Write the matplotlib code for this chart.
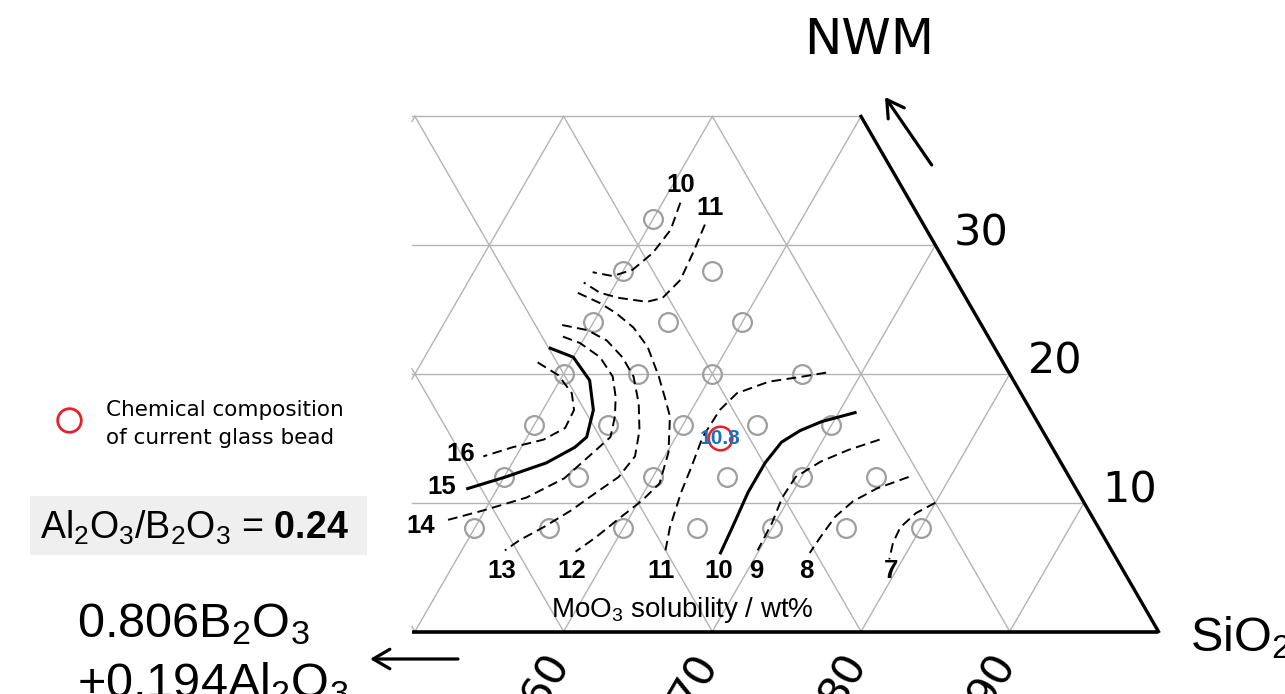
import numpy as np
import matplotlib.pyplot as plt
from matplotlib.patches import Rectangle

plt.rcParams['mathtext.fontset'] = 'custom'
plt.rcParams['mathtext.rm'] = 'Liberation Sans'
plt.rcParams['mathtext.bf'] = 'Liberation Sans:bold'
plt.rcParams['mathtext.it'] = 'Liberation Sans:italic'

#measured glass compositions (wt%)
glass_sio2 = [50,
              50, 56,
              50, 55, 60,
              50, 55, 60, 66,
              50, 55, 60, 65, 70,
              50, 55, 60, 65, 70, 75,
              50, 55, 60, 65, 70, 75, 80]
glass_nwm = [32,
             28, 28,
             24, 24, 24,
             20, 20, 20, 20,
             16, 16, 16, 16, 16,
             12, 12, 12, 12, 12, 12,
             8, 8, 8, 8, 8, 8, 8]

#current glass bead
bead_sio2 = 63
bead_nwm = 15
bead_value = 10.8

#MoO3 solubility contours as (SiO2, NWM) pairs
c10_top = [(51.2, 33.3), (51.6, 31.2), (51.3, 29.4), (50.6, 28.1), (49.5, 27.6), (48.0, 27.9)]
c11_top = [(53.7, 31.6), (54.0, 29.4), (54.2, 27.3), (53.7, 25.9), (52.8, 25.6), (50.8, 25.9),
           (49.3, 26.3), (47.8, 27.1)]
c12 = [(47.8, 26.3), (49.7, 25.5), (51.2, 24.7), (52.9, 23.6), (54.6, 22.1), (56.5, 19.8),
       (57.7, 18.2), (58.8, 16.7), (60.1, 13.9), (60.7, 11.5), (60.2, 10.2), (59.3, 8.7),
       (58.5, 7.3), (57.7, 6.2)]
c13 = [(48.0, 23.8), (49.9, 23.4), (51.6, 22.6), (53.3, 21.3), (54.8, 19.8), (56.2, 17.7),
       (57.3, 15.6), (58.0, 13.6), (57.7, 12.0), (56.8, 10.8), (55.8, 9.4), (54.6, 8.1),
       (53.5, 7.1), (52.9, 6.3)]
c14 = [(48.5, 22.9), (49.9, 22.4), (51.8, 21.3), (53.4, 19.8), (54.4, 18.2), (55.1, 16.7),
       (55.6, 15.1), (54.9, 13.6), (54.1, 11.9), (52.3, 10.4), (49.9, 9.4), (47.7, 8.6)]
c15 = [(48.1, 22.0), (50.0, 21.3), (52.0, 19.5), (53.4, 17.2), (54.0, 15.1), (53.6, 14.3),
       (52.3, 13.1), (50.1, 12.0), (48.0, 11.1)]
c16 = [(47.8, 20.9), (49.7, 19.9), (51.3, 18.5), (52.1, 17.2), (52.2, 15.8), (51.2, 14.9),
       (49.4, 14.3), (47.8, 13.6)]
c11_low = [(67.6, 20.1), (66.2, 19.8), (64.1, 19.4), (62.4, 18.5), (61.9, 17.2), (61.8, 15.1),
           (62.2, 12.8), (62.5, 10.8), (63.1, 8.1), (63.7, 6.3)]
c10_low = [(71.1, 17.0), (69.2, 16.3), (68.1, 15.6), (67.3, 14.7), (67.0, 13.1), (67.0, 10.8),
           (67.3, 8.1), (67.5, 6.1)]
c9 = [(73.8, 14.9), (72.1, 14.1), (70.7, 13.2), (69.6, 12.0), (69.5, 10.4), (69.8, 8.4), (69.9, 6.3)]
c8 = [(77.2, 12.0), (75.5, 11.1), (74.4, 10.1), (73.8, 8.9), (73.6, 7.3), (73.5, 6.1)]
c7 = [(80.0, 10.0), (79.1, 9.2), (78.6, 8.1), (78.7, 6.9), (79.1, 5.6)]

#contour labels
label_text = ['10', '11', '12', '13', '14', '15', '16', '11', '10', '9', '8', '7']
label_sio2 = [50.5, 53.4, 58.2, 53.5, 46.3, 46.2, 46.2, 64.2, 68.1, 70.6, 74.0, 79.7]
label_nwm = [34.7, 32.9, 4.7, 4.7, 8.2, 11.2, 13.8, 4.7, 4.7, 4.7, 4.7, 4.7]

#axis ticks
sio2_ticks = [60, 70, 80, 90]
nwm_ticks = [10, 20, 30]

H = np.sqrt(3) / 2
X_LEFT = 49.8   # left cut of the diagram
N_TOP = 40      # top cut of the diagram


def to_xy(s, n):
    s = np.asarray(s, dtype=float)
    n = np.asarray(n, dtype=float)
    return s + n / 2, n * H


def fpos(x, y):
    #pixel position -> figure fraction
    return x / 1285, 1 - y / 694


fig = plt.figure(figsize=(12.85, 6.94), dpi=100)
ax = fig.add_axes([0, 0, 1, 1])
ax.set_xlim(22.098, 108.51)
ax.set_ylim(-4.203, 42.468)
ax.axis('off')

grid_kw = dict(color='#b3b3b3', lw=1.0, zorder=1)
#horizontal lines (constant NWM)
for n in [10, 20, 30, 40]:
    ax.plot([X_LEFT, 100 - n / 2], [n * H, n * H], **grid_kw)
#constant SiO2 lines
for s in range(30, 100, 10):
    n0 = max(0, 2 * (X_LEFT - s))
    n1 = min(N_TOP, 100 - s)
    if n0 < n1:
        x, y = to_xy([s, s], [n0, n1])
        ax.plot(x, y, **grid_kw)
#constant B2O3+Al2O3 lines
for b in range(10, 60, 10):
    n1 = min(N_TOP, 2 * (100 - b - X_LEFT))
    if n1 > 0:
        x, y = to_xy([100 - b, 100 - b - n1], [0, n1])
        ax.plot(x, y, **grid_kw)

#edges
ax.plot([X_LEFT, 100], [0, 0], color='black', lw=2.6, zorder=3, solid_capstyle='butt')
x, y = to_xy([100, 100 - N_TOP], [0, N_TOP])
ax.plot(x, y, color='black', lw=2.4, zorder=3)

#measured glasses
x, y = to_xy(glass_sio2, glass_nwm)
ax.plot(x, y, 'o', ms=13.5, mfc='none', mec='#9e9e9e', mew=1.6, zorder=2)

#contours
contours = [(c10_top, '--'), (c11_top, '--'), (c12, '--'), (c13, '--'), (c14, '--'),
            (c15, '-'), (c16, '--'), (c11_low, '--'), (c10_low, '-'), (c9, '--'),
            (c8, '--'), (c7, '--')]
for pts, style in contours:
    s, n = zip(*pts)
    x, y = to_xy(s, n)
    if style == '-':
        ax.plot(x, y, color='black', lw=2.2, zorder=4)
    else:
        ax.plot(x, y, color='black', lw=1.4, dashes=(5, 2.8), zorder=4)

x, y = to_xy(label_sio2, label_nwm)
for t, xi, yi in zip(label_text, x, y):
    ax.text(xi, yi, t, ha='center', va='center', fontsize=18.5, fontweight='bold',
            family='Liberation Sans', zorder=5)

#current glass bead
bx, by = to_xy(bead_sio2, bead_nwm)
ax.plot(bx, by, 'o', ms=17, mfc='none', mec='#e8202a', mew=1.8, zorder=5)
ax.text(bx, by, str(bead_value), ha='center', va='center', fontsize=15, fontweight='bold',
        color='#1a6fc0', family='Liberation Sans', zorder=6)

ax.text(68.0, 1.0, r'MoO$_3$ solubility / wt%', ha='center', va='baseline', fontsize=20,
        family='Liberation Sans', zorder=5)

#tick labels
for n in nwm_ticks:
    ax.text(100 - n / 2 + 1.2, n * H, str(n), ha='left', va='baseline', fontsize=31,
            family='DejaVu Sans')
for s in sio2_ticks:
    ax.text(s - 1.2, -3.26, str(s), ha='center', va='center', fontsize=31, rotation=60,
            family='DejaVu Sans')

#apex names and arrows
fig.text(*fpos(869, 40), 'NWM', ha='center', va='center', fontsize=36, family='DejaVu Sans')
ax.annotate('', xy=(885, 694 - 97), xytext=(931.7, 694 - 165), xycoords='figure pixels',
            textcoords='figure pixels',
            arrowprops=dict(arrowstyle='->,head_length=0.6,head_width=0.35', lw=2.3,
                            color='black', mutation_scale=20, shrinkA=0, shrinkB=0))
fig.text(*fpos(1190, 651), r'SiO$_2$', ha='left', va='baseline', fontsize=35,
         family='Liberation Sans')
fig.text(*fpos(77, 637), r'0.806B$_2$O$_3$', ha='left', va='baseline', fontsize=35,
         family='Liberation Sans')
fig.text(*fpos(77, 697), r'+0.194Al$_2$O$_3$', ha='left', va='baseline', fontsize=35,
         family='Liberation Sans')
ax.annotate('', xy=(370, 694 - 659), xytext=(458, 694 - 659), xycoords='figure pixels',
            textcoords='figure pixels',
            arrowprops=dict(arrowstyle='->,head_length=0.6,head_width=0.35', lw=2.3,
                            color='black', mutation_scale=20, shrinkA=0, shrinkB=0))

#ratio box
x0, y0 = fpos(30, 555)
fig.patches.append(Rectangle((x0, y0), 337 / 1285, 59 / 694, transform=fig.transFigure,
                             facecolor='#efefef', edgecolor='none', zorder=0))
fig.text(*fpos(40, 539), r'Al$_2$O$_3$/B$_2$O$_3$ = $\mathbf{0.24}$', ha='left', va='baseline',
         fontsize=27, family='Liberation Sans')

#legend
lx, ly = fpos(69, 420)
ax.plot([lx], [ly], 'o', transform=fig.transFigure, ms=17, mfc='none', mec='#e8202a', mew=2.0,
        clip_on=False)
fig.text(*fpos(106, 416), 'Chemical composition', ha='left', va='baseline', fontsize=15.5,
         family='DejaVu Sans')
fig.text(*fpos(106, 444), 'of current glass bead', ha='left', va='baseline', fontsize=15.5,
         family='DejaVu Sans')

fig.savefig('out.png', dpi=100)
